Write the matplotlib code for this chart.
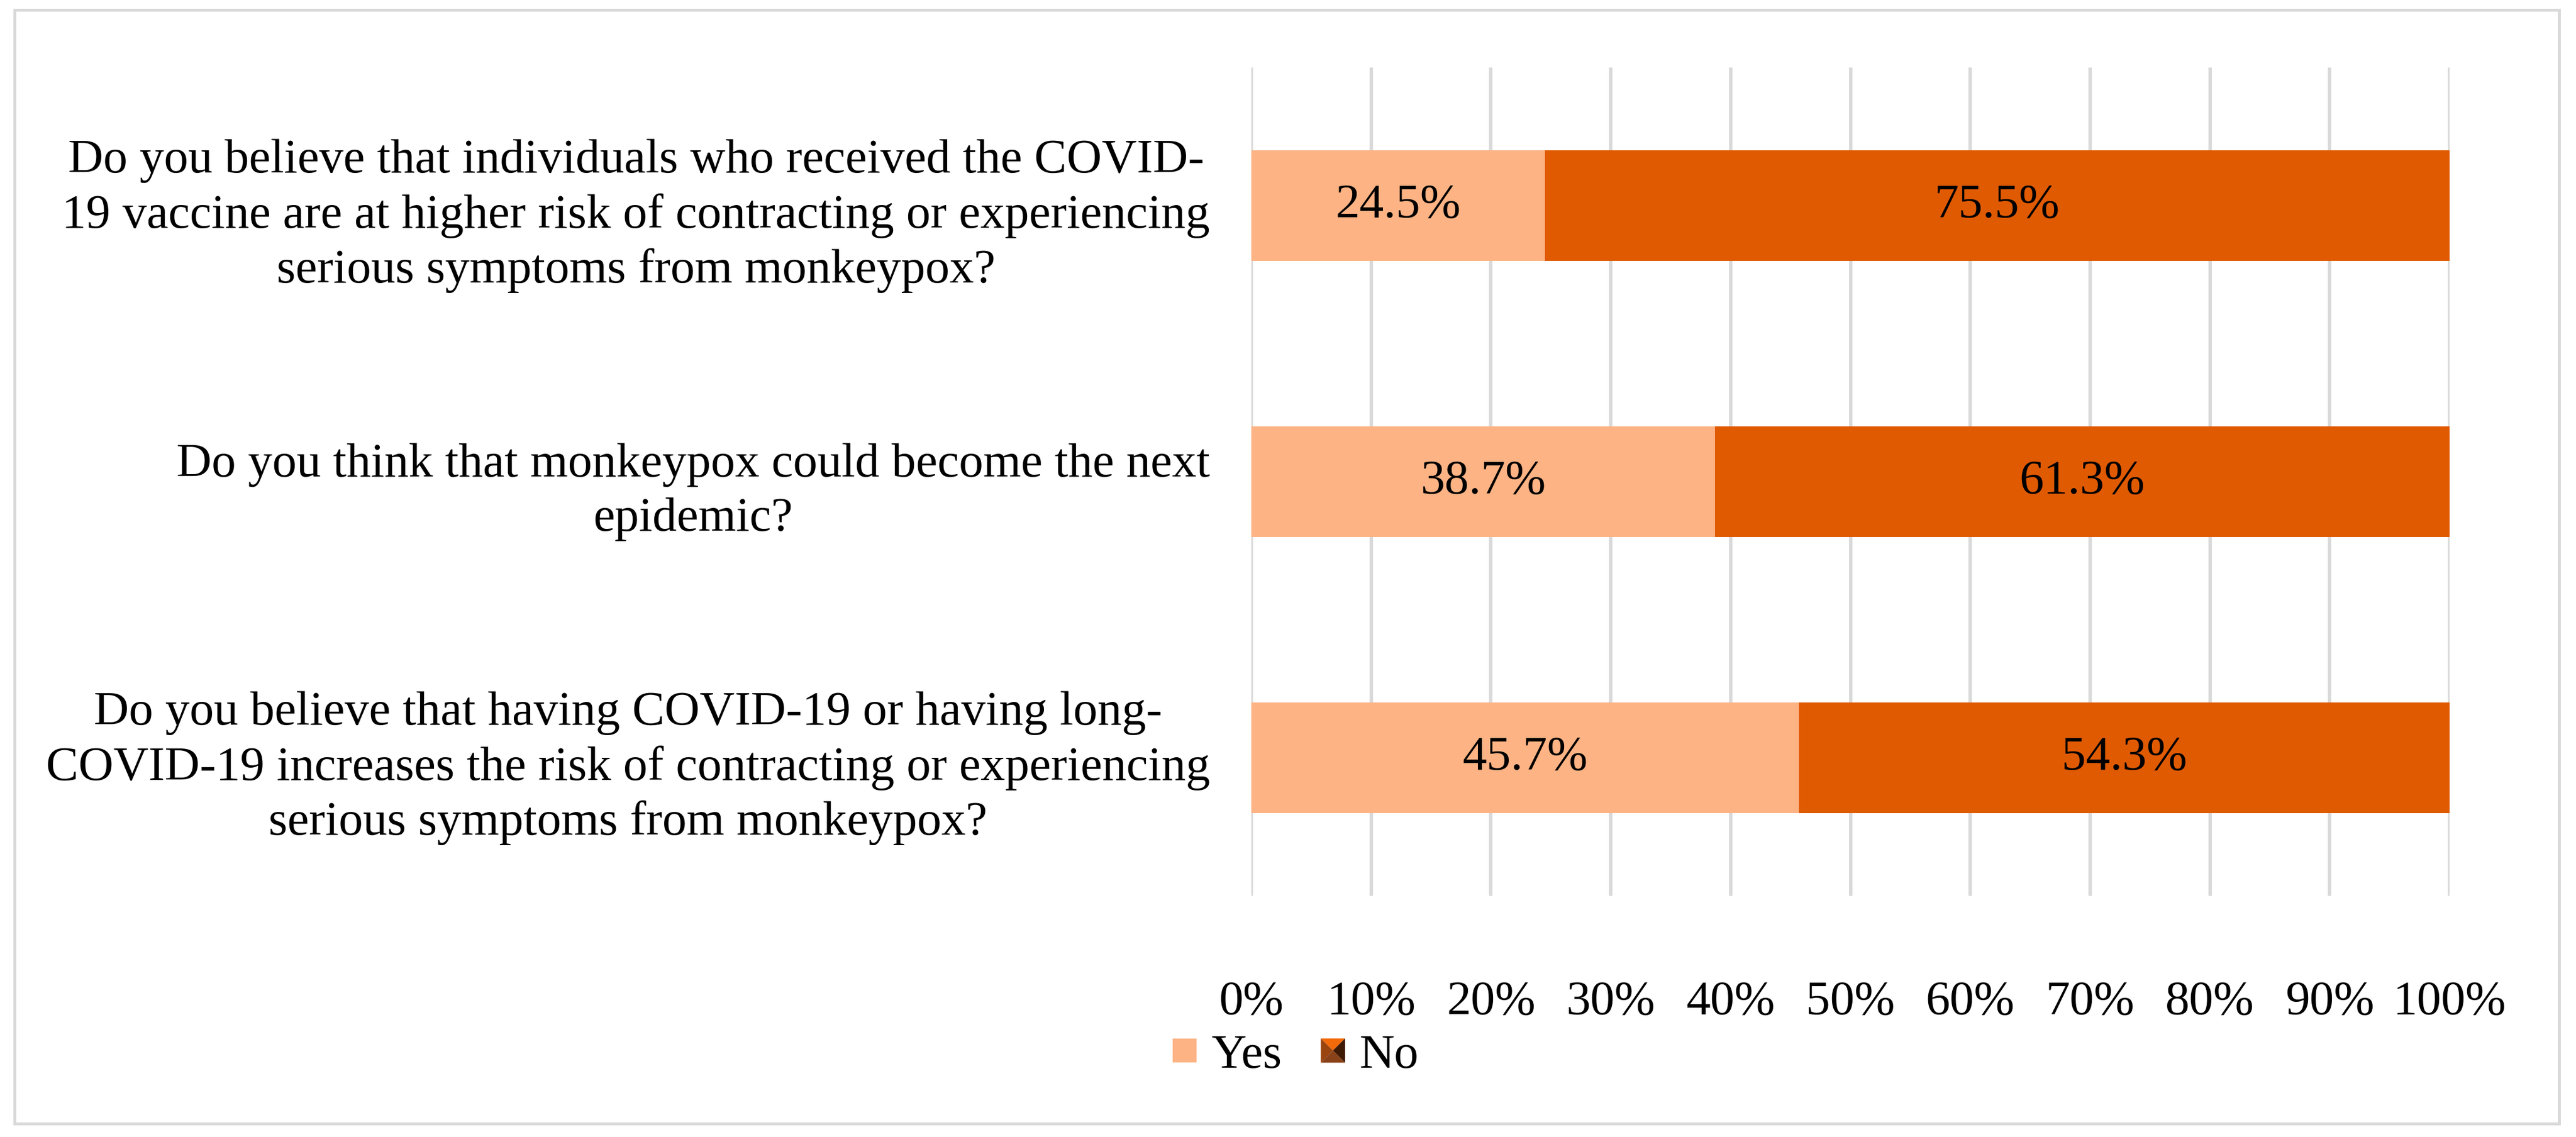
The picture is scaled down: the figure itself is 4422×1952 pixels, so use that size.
"""Stacked 100% bar chart: COVID-19 / monkeypox beliefs survey."""
import matplotlib
matplotlib.use("Agg")
import matplotlib.pyplot as plt
from matplotlib.patches import Rectangle, Polygon
from matplotlib.legend_handler import HandlerBase

plt.rcParams.update({
    "font.family": "serif",
    "font.serif": ["Liberation Serif", "DejaVu Serif"],
    "font.size": 20,
})

QUESTIONS = [
    "Do you believe that individuals who received the COVID-\n"
    "19 vaccine are at higher risk of contracting or experiencing\n"
    "serious symptoms from monkeypox?",
    "Do you think that monkeypox could become the next\nepidemic?",
    "Do you believe that having COVID-19 or having long-\n"
    "COVID-19 increases the risk of contracting or experiencing\n"
    "serious symptoms from monkeypox?",
]
YES = [24.5, 38.7, 45.7]
NO = [75.5, 61.3, 54.3]
SERIES = ["Yes", "No"]
XTICKS = list(range(0, 101, 10))

C_YES = "#FDB384"
C_NO = "#E05A02"
GRID = "#D9D9D9"


class BevelHandler(HandlerBase):
    """Legend key drawn like Excel's bevelled 'No' swatch."""
    def create_artists(self, legend, orig, xd, yd, w, h, fontsize, trans):
        s = min(w, h)
        x0 = -xd + (w - s) / 2
        y0 = -yd + (h - s) / 2
        cx, cy = x0 + s / 2, y0 + s / 2
        c = [(x0, y0), (x0 + s, y0), (x0 + s, y0 + s), (x0, y0 + s)]
        faces = [((c[3], c[2]), "#F26A0A"), ((c[0], c[3]), "#9A4410"),
                 ((c[1], c[2]), "#3E1904"), ((c[0], c[1]), "#8A4218")]
        out = []
        for (p1, p2), col in faces:
            out.append(Polygon([p1, p2, (cx, cy)], closed=True, fc=col,
                               ec="none", transform=trans))
        return out


class SquareHandler(HandlerBase):
    def create_artists(self, legend, orig, xd, yd, w, h, fontsize, trans):
        s = min(w, h)
        return [Rectangle((-xd + (w - s) / 2, -yd + (h - s) / 2), s, s,
                          fc=orig.get_facecolor(), ec="none", transform=trans)]


fig = plt.figure(figsize=(4422 / 300, 1952 / 300), dpi=300)
ax = fig.add_axes([2148 / 4422, 1 - 1538 / 1952, (4205 - 2148) / 4422,
                   (1538 - 116) / 1952])

y = list(range(len(QUESTIONS)))
b1 = ax.barh(y, YES, height=0.4, color=C_YES, label=SERIES[0], zorder=3)
b2 = ax.barh(y, NO, left=YES, height=0.4, color=C_NO, label=SERIES[1], zorder=3)

for bars, vals in ((b1, YES), (b2, NO)):
    for r, v in zip(bars, vals):
        ax.text(r.get_x() + r.get_width() / 2, r.get_y() + r.get_height() / 2,
                f"{v:.1f}%", ha="center", va="center", zorder=4)

ax.set_xlim(0, 100)
ax.set_ylim(len(QUESTIONS) - 0.5, -0.5)
ax.set_xticks(XTICKS)
ax.set_xticklabels([f"{t}%" for t in XTICKS])
ax.set_yticks(y)
ax.set_yticklabels(QUESTIONS, multialignment="center", linespacing=1.3)
ax.tick_params(axis="both", length=0)
ax.tick_params(axis="x", pad=35)
ax.tick_params(axis="y", pad=17)
ax.xaxis.grid(True, color=GRID, lw=1.4, zorder=0)
for sp in ax.spines.values():
    sp.set_visible(False)

ax.legend([b1[0], b2[0]], SERIES, loc="center", bbox_to_anchor=(0.503, 0.071),
          bbox_transform=fig.transFigure, ncol=2, frameon=False,
          handler_map={b1[0]: SquareHandler(), b2[0]: BevelHandler()},
          handlelength=0.5, handleheight=0.5, handletextpad=0.3,
          columnspacing=0.8)

fig.patches.append(Rectangle((25 / 4422, 1 - 1929 / 1952), (4393 - 25) / 4422,
                             (1929 - 17) / 1952, transform=fig.transFigure,
                             fill=False, ec=GRID, lw=1.2))

fig.savefig("out.png", dpi=300, facecolor="white")
plt.close(fig)
